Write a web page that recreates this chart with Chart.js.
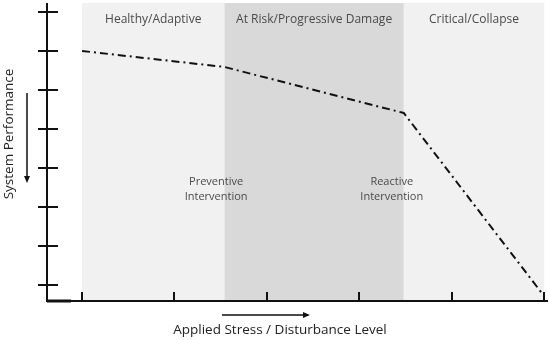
<!DOCTYPE html>
<html>
<head>
<meta charset="utf-8">
<script src="https://cdn.jsdelivr.net/npm/chart.js@4"></script>
<style>
  html, body { margin: 0; padding: 0; background: #fff; }
  #wrap { width: 550px; height: 340px; }
</style>
</head>
<body>
<div id="wrap"><canvas id="chart"></canvas></div>
<script>
// performance curve
var curveX = [0, 1.54, 3.48, 4.99];
var curveY = [6, 5.59, 4.41, -0.26];

// zones along the stress axis
var zoneLabels = ['Healthy/Adaptive', 'At Risk/Progressive Damage', 'Critical/Collapse'];
var zoneStart = [0, 1.54, 3.48];
var zoneEnd = [1.54, 3.48, 5.0];
var zoneColors = ['#f1f1f1', '#d9d9d9', '#f1f1f1'];

// intervention notes
var noteLines = [['Preventive', 'Intervention'], ['Reactive', 'Intervention']];
var noteX = [1.45, 3.35];
var noteY = 2.45;

var xTicks = [0, 1, 2, 3, 4, 5];
var yTicks = [0, 1, 2, 3, 4, 5, 6, 7];

var FONT = '"Open Sans", "Noto Sans", sans-serif';

var decor = {
  id: 'decor',
  beforeDatasetsDraw: function(chart) {
    var ctx = chart.ctx, x = chart.scales.x, a = chart.chartArea;
    ctx.save();
    for (var i = 0; i < zoneLabels.length; i++) {
      var x0 = x.getPixelForValue(zoneStart[i]);
      var x1 = x.getPixelForValue(zoneEnd[i]);
      ctx.fillStyle = zoneColors[i];
      ctx.fillRect(x0, a.top, x1 - x0, a.bottom - a.top);
      ctx.fillStyle = '#4a4a4a';
      ctx.font = '12px ' + FONT;
      ctx.textAlign = 'center';
      ctx.textBaseline = 'middle';
      ctx.fillText(zoneLabels[i], (x0 + x1) / 2, a.top + 17);
    }
    ctx.font = '11px ' + FONT;
    ctx.fillStyle = '#4a4a4a';
    for (var j = 0; j < noteLines.length; j++) {
      var px = x.getPixelForValue(noteX[j]);
      var py = chart.scales.y.getPixelForValue(noteY);
      ctx.fillText(noteLines[j][0], px, py - 8);
      ctx.fillText(noteLines[j][1], px, py + 7);
    }
    ctx.restore();
  },
  afterDraw: function(chart) {
    var ctx = chart.ctx, x = chart.scales.x, y = chart.scales.y, a = chart.chartArea;
    ctx.save();
    ctx.strokeStyle = '#111';
    ctx.lineWidth = 2;
    ctx.beginPath();
    ctx.moveTo(a.left, a.top);
    ctx.lineTo(a.left, a.bottom);
    ctx.lineTo(a.right, a.bottom);
    ctx.stroke();
    ctx.lineWidth = 3;
    ctx.beginPath();
    ctx.moveTo(a.left, a.bottom);
    ctx.lineTo(a.left + 24, a.bottom);
    ctx.stroke();
    ctx.lineWidth = 2;
    ctx.beginPath();
    x.ticks.forEach(function(t) {
      var px = Math.round(x.getPixelForValue(t.value));
      ctx.moveTo(px, a.bottom);
      ctx.lineTo(px, a.bottom - 9);
    });
    y.ticks.forEach(function(t) {
      var py = Math.round(y.getPixelForValue(t.value));
      ctx.moveTo(a.left - 9, py);
      ctx.lineTo(a.left + 11, py);
    });
    ctx.stroke();

    // axis titles
    ctx.fillStyle = '#222';
    ctx.font = '13.5px ' + FONT;
    ctx.textAlign = 'center';
    ctx.textBaseline = 'middle';
    ctx.fillText('Applied Stress / Disturbance Level', 280, 330);
    ctx.save();
    ctx.translate(9, 134);
    ctx.rotate(-Math.PI / 2);
    ctx.fillText('System Performance', 0, 0);
    ctx.restore();

    // direction arrows
    ctx.lineWidth = 1.5;
    ctx.beginPath();
    ctx.moveTo(27, 93); ctx.lineTo(27, 178);
    ctx.moveTo(222, 315); ctx.lineTo(305, 315);
    ctx.stroke();
    ctx.fillStyle = '#111';
    ctx.beginPath();
    ctx.moveTo(27, 183); ctx.lineTo(24, 176); ctx.lineTo(30, 176); ctx.closePath();
    ctx.moveTo(310, 315); ctx.lineTo(303, 312); ctx.lineTo(303, 318); ctx.closePath();
    ctx.fill();
    ctx.restore();
  }
};

document.addEventListener('DOMContentLoaded', function() {
  new Chart('chart', {
    type: 'scatter',
    data: {
      datasets: [{
        data: curveX.map(function(v, i) { return { x: v, y: curveY[i] }; }),
        showLine: true,
        borderColor: '#111',
        borderWidth: 2,
        borderDash: [8, 4, 2, 4],
        pointRadius: 0,
        tension: 0
      }]
    },
    options: {
      responsive: true,
      maintainAspectRatio: false,
      animation: false,
      layout: { padding: { left: 47, top: 3, right: 2, bottom: 39 } },
      plugins: { legend: { display: false }, tooltip: { enabled: false } },
      scales: {
        x: {
          type: 'linear', display: false, min: -0.379, max: 5.04,
          afterBuildTicks: function(s) { s.ticks = xTicks.map(function(v) { return { value: v }; }); }
        },
        y: {
          type: 'linear', display: false, min: -0.41, max: 7.23,
          afterBuildTicks: function(s) { s.ticks = yTicks.map(function(v) { return { value: v }; }); }
        }
      }
    },
    plugins: [decor]
  });
});
</script>
</body>
</html>
